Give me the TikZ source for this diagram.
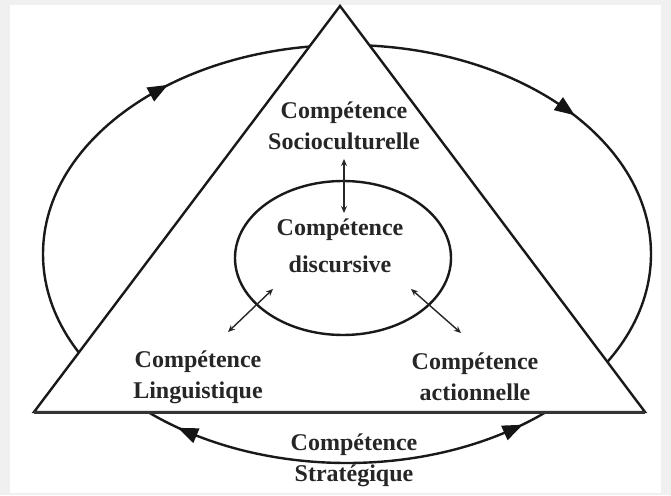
\documentclass[tikz,border=0pt]{standalone}
\usepackage{fontspec}
\setmainfont{Liberation Serif}
\usetikzlibrary{arrows.meta,calc}
\tikzset{
  lbl/.style={font=\bfseries\fontsize{24}{31}\selectfont, align=center, inner sep=0pt, text=black!85},
  thick line/.style={line width=2.4pt, draw=black!90},
  link/.style={line width=1.4pt, draw=black!85, {Stealth[length=7pt,width=6pt]}-{Stealth[length=7pt,width=6pt]}},
  bigtip/.style={fill=black!92}
}
\newcommand\bigarrowhead[2]{\fill[bigtip, shift={#1}, rotate=#2] (11,0) -- (-9,8) -- (-9,-8) -- cycle;}
\begin{document}
\begin{tikzpicture}[x=1pt,y=1pt]
  \useasboundingbox (0,0) rectangle (671,495);
  \fill[black!6] (0,0) rectangle (671,495);
  \fill[white] (10,2) rectangle (661,490);
  % outer ellipse
  \coordinate (oc) at (347,241);
  \draw[thick line] (oc) ellipse [x radius=304, y radius=209];
  \bigarrowhead{($(oc)+({304*cos(128.4)},{209*sin(128.4)})$)}{28.6}
  \bigarrowhead{($(oc)+({304*cos(44)},{209*sin(44)})$)}{-35.4}
  \bigarrowhead{($(oc)+({304*cos(238.5)},{209*sin(238.5)})$)}{157}
  \bigarrowhead{($(oc)+({304*cos(303)},{209*sin(303)})$)}{24}
  % triangle
  \coordinate (apex) at (340,489);
  \coordinate (bl) at (34,83);
  \coordinate (br) at (645,83);
  \filldraw[thick line, fill=white, line join=miter] (apex) -- (bl) -- (br) -- cycle;
  \draw[line width=3pt, draw=black!80] (bl) -- (br);
  % inner ellipse
  \coordinate (ic) at (343,237);
  \draw[thick line] (ic) ellipse [x radius=108, y radius=77];
  % labels
  \node[lbl] (socio) at (344,369) {Compétence\\Socioculturelle};
  \node[lbl, font=\bfseries\fontsize{24}{37}\selectfont] (disc) at (340,249) {Compétence\\discursive};
  \node[lbl] (ling) at (198,118) {Compétence\\Linguistique};
  \node[lbl] (act) at (475,118) {Compétence\\actionnelle};
  \node[lbl] (strat) at (354,35) {Compétence\\Stratégique};
  % inner arrows
  \coordinate (v1) at (344,336);
  \coordinate (v2) at (344,282);
  \coordinate (l1) at (273,206);
  \coordinate (l2) at (228,163);
  \coordinate (r1) at (411,206);
  \coordinate (r2) at (461,162);
  \draw[link] (v1) -- (v2);
  \draw[link] (l1) -- (l2);
  \draw[link] (r1) -- (r2);
\end{tikzpicture}
\end{document}
